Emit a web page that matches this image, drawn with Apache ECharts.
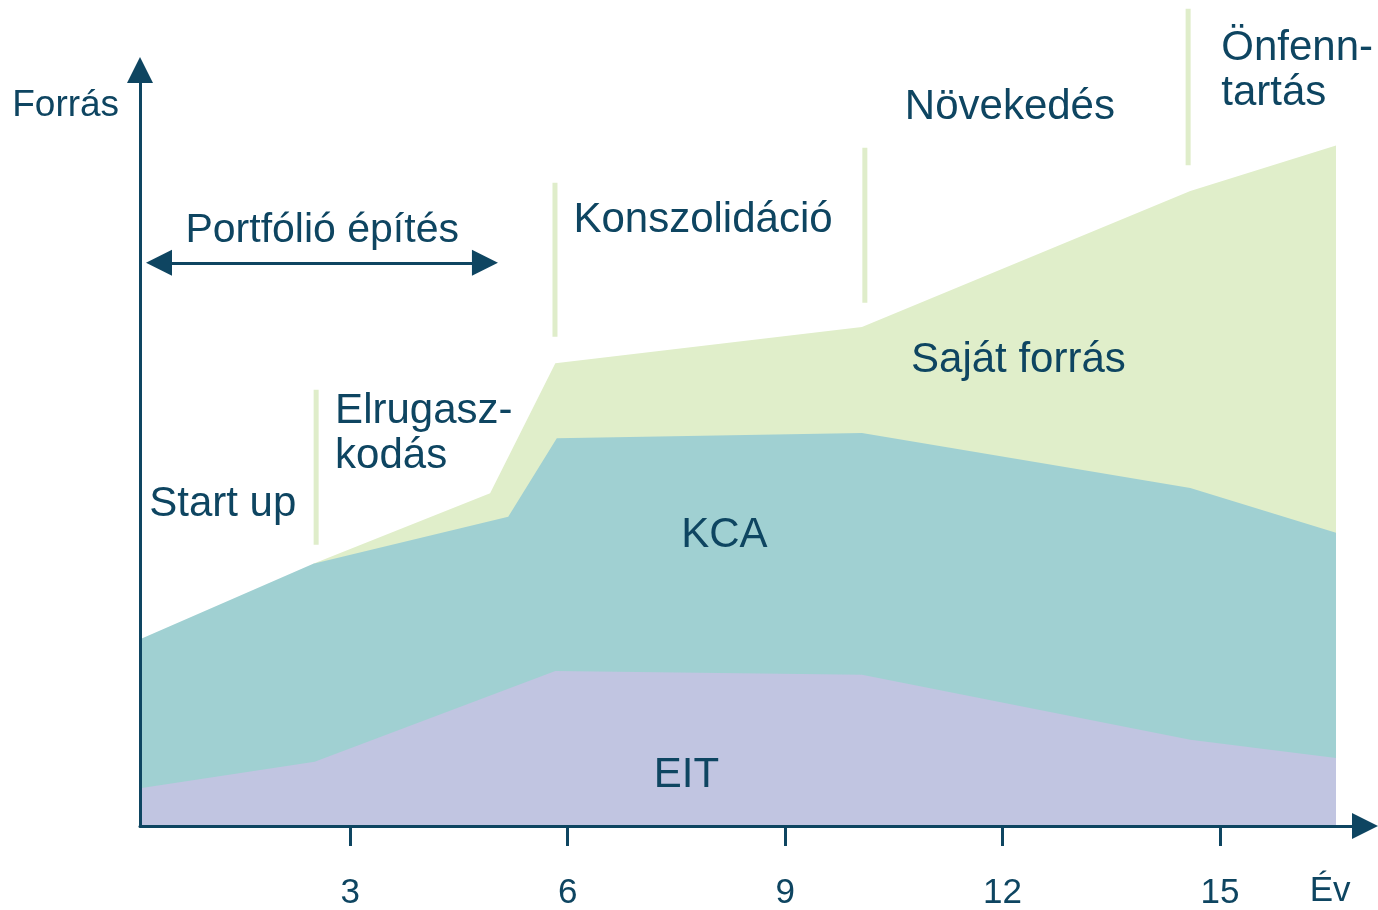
<!DOCTYPE html>
<html><head><meta charset="utf-8">
<script src="https://cdn.jsdelivr.net/npm/echarts@6/dist/echarts.min.js"></script>
<style>html,body{margin:0;padding:0;background:#fff}#c{width:1378px;height:910px}</style>
</head><body><div id="c"></div>
<script>
// ---- data (arbitrary resource units, years on x) ----
const yearTicks = [3, 6, 9, 12, 15];
const layerNames = ['EIT', 'KCA', 'Saját forrás'];
// top boundary of each layer (cumulative height)
const eitTop   = [[0.1, 5.0], [2.51, 8.5], [5.83, 20.5], [10.06, 20.0], [14.59, 11.4], [16.6, 9.0]];
const kcaTop   = [[0.1, 24.7], [2.49, 34.7], [5.18, 40.9], [5.85, 51.3], [10.06, 52.0], [14.59, 44.7], [16.6, 38.8]];
const sajatTop = [[2.49, 34.7], [4.93, 44.0], [5.83, 61.2], [10.06, 66.0], [14.59, 84.0], [16.6, 90.0]];
const phaseNames = ['Start up', 'Elrugasz-\nkodás', 'Konszolidáció', 'Növekedés', 'Önfenn-\ntartás'];
const spanName = 'Portfólió építés';
const xName = 'Év';
const yName = 'Forrás';

// ---- annotation layout (data coordinates) ----
const phaseBounds = [[2.53, 37.2, 57.7], [5.825, 64.7, 85.1], [10.1, 69.2, 89.7], [14.56, 87.4, 108.1]];
const spanArrow = { from: 0.362, to: 4.859, y: 74.5 };
const anchors = [
  [yName, -1.67, 95.2, 37],
  [xName, 16.23, -8.6, 35],
  [phaseNames[0], 0.22, 42.6, 42],
  [phaseNames[1], 2.785, 51.9, 42],
  [spanName, 0.72, 78.7, 41],
  [phaseNames[2], 6.073, 80.1, 42],
  [phaseNames[3], 10.645, 95.0, 42],
  [phaseNames[4], 15.01, 99.9, 42],
  [layerNames[2], 10.73, 61.6, 42],
  [layerNames[1], 7.56, 38.5, 42],
  [layerNames[0], 7.18, 6.7, 42]
];

const DARK = '#0e4561';
const COL = { eit: '#c1c5e1', kca: '#a0d0d2', sajat: '#e0eeca', sep: '#dfedca' };
const FONT = '"Liberation Sans", Arial, Helvetica, sans-serif';

const chart = echarts.init(document.getElementById('c'), null, { renderer: 'canvas' });

const areaSeries = (name, data, color, z) => ({
  name, type: 'line', data, symbol: 'none', silent: true, z,
  lineStyle: { width: 0 }, areaStyle: { color, opacity: 1 },
  emphasis: { disabled: true }
});

const sepSeries = phaseBounds.map((b, i) => ({
  name: 'sep' + i, type: 'line', clip: false, symbol: 'none', silent: true, z: 6,
  data: [[b[0], b[1]], [b[0], b[2]]],
  lineStyle: { color: COL.sep, width: 5 }, emphasis: { disabled: true }
}));

const option = {
  animation: false,
  backgroundColor: '#ffffff',
  textStyle: { fontFamily: FONT },
  grid: { left: 140, right: 13, top: 70, bottom: 84, containLabel: false, outerBoundsMode: 'none' },
  xAxis: {
    type: 'value', min: 0.1, max: 17, z: 10,
    axisLine: { show: true, symbol: ['none', 'triangle'], symbolSize: [26, 26], lineStyle: { color: DARK, width: 3 } },
    axisTick: { show: true, customValues: yearTicks, length: 20, lineStyle: { color: DARK, width: 3 } },
    axisLabel: { show: true, customValues: yearTicks, margin: 49, color: DARK, fontSize: 35, lineHeight: 36, fontFamily: FONT },
    splitLine: { show: false }
  },
  yAxis: {
    type: 'value', min: 0, max: 100, z: 10,
    axisLine: { show: true, onZero: false, symbol: ['none', 'triangle'], symbolSize: [26, 26], lineStyle: { color: DARK, width: 3 } },
    axisTick: { show: false }, axisLabel: { show: false }, splitLine: { show: false }
  },
  series: [
    areaSeries(layerNames[2], sajatTop, COL.sajat, 2),
    areaSeries(layerNames[1], kcaTop, COL.kca, 3),
    areaSeries(layerNames[0], eitTop, COL.eit, 4),
    ...sepSeries,
    {
      name: 'span', type: 'line', data: [], silent: true, z: 7,
      markLine: {
        silent: true, animation: false,
        symbol: ['triangle', 'triangle'], symbolSize: [26, 26],
        lineStyle: { color: DARK, width: 3, type: 'solid' },
        label: { show: false },
        emphasis: { disabled: true },
        data: [[{ coord: [spanArrow.from, spanArrow.y] }, { coord: [spanArrow.to, spanArrow.y] }]]
      }
    },
    {
      name: 'labels', type: 'scatter', clip: false, silent: true, z: 8,
      symbol: 'circle', symbolSize: 1, itemStyle: { color: 'rgba(0,0,0,0)', opacity: 1 },
      label: {
        show: true, position: 'right', distance: 0, formatter: '{b}',
        color: DARK, opacity: 1, fontFamily: FONT, lineHeight: 45
      },
      emphasis: { disabled: true },
      data: anchors.map(a => ({ name: a[0], value: [a[1], a[2]], label: { fontSize: a[3] } }))
    }
  ]
};
chart.setOption(option);
</script></body></html>
